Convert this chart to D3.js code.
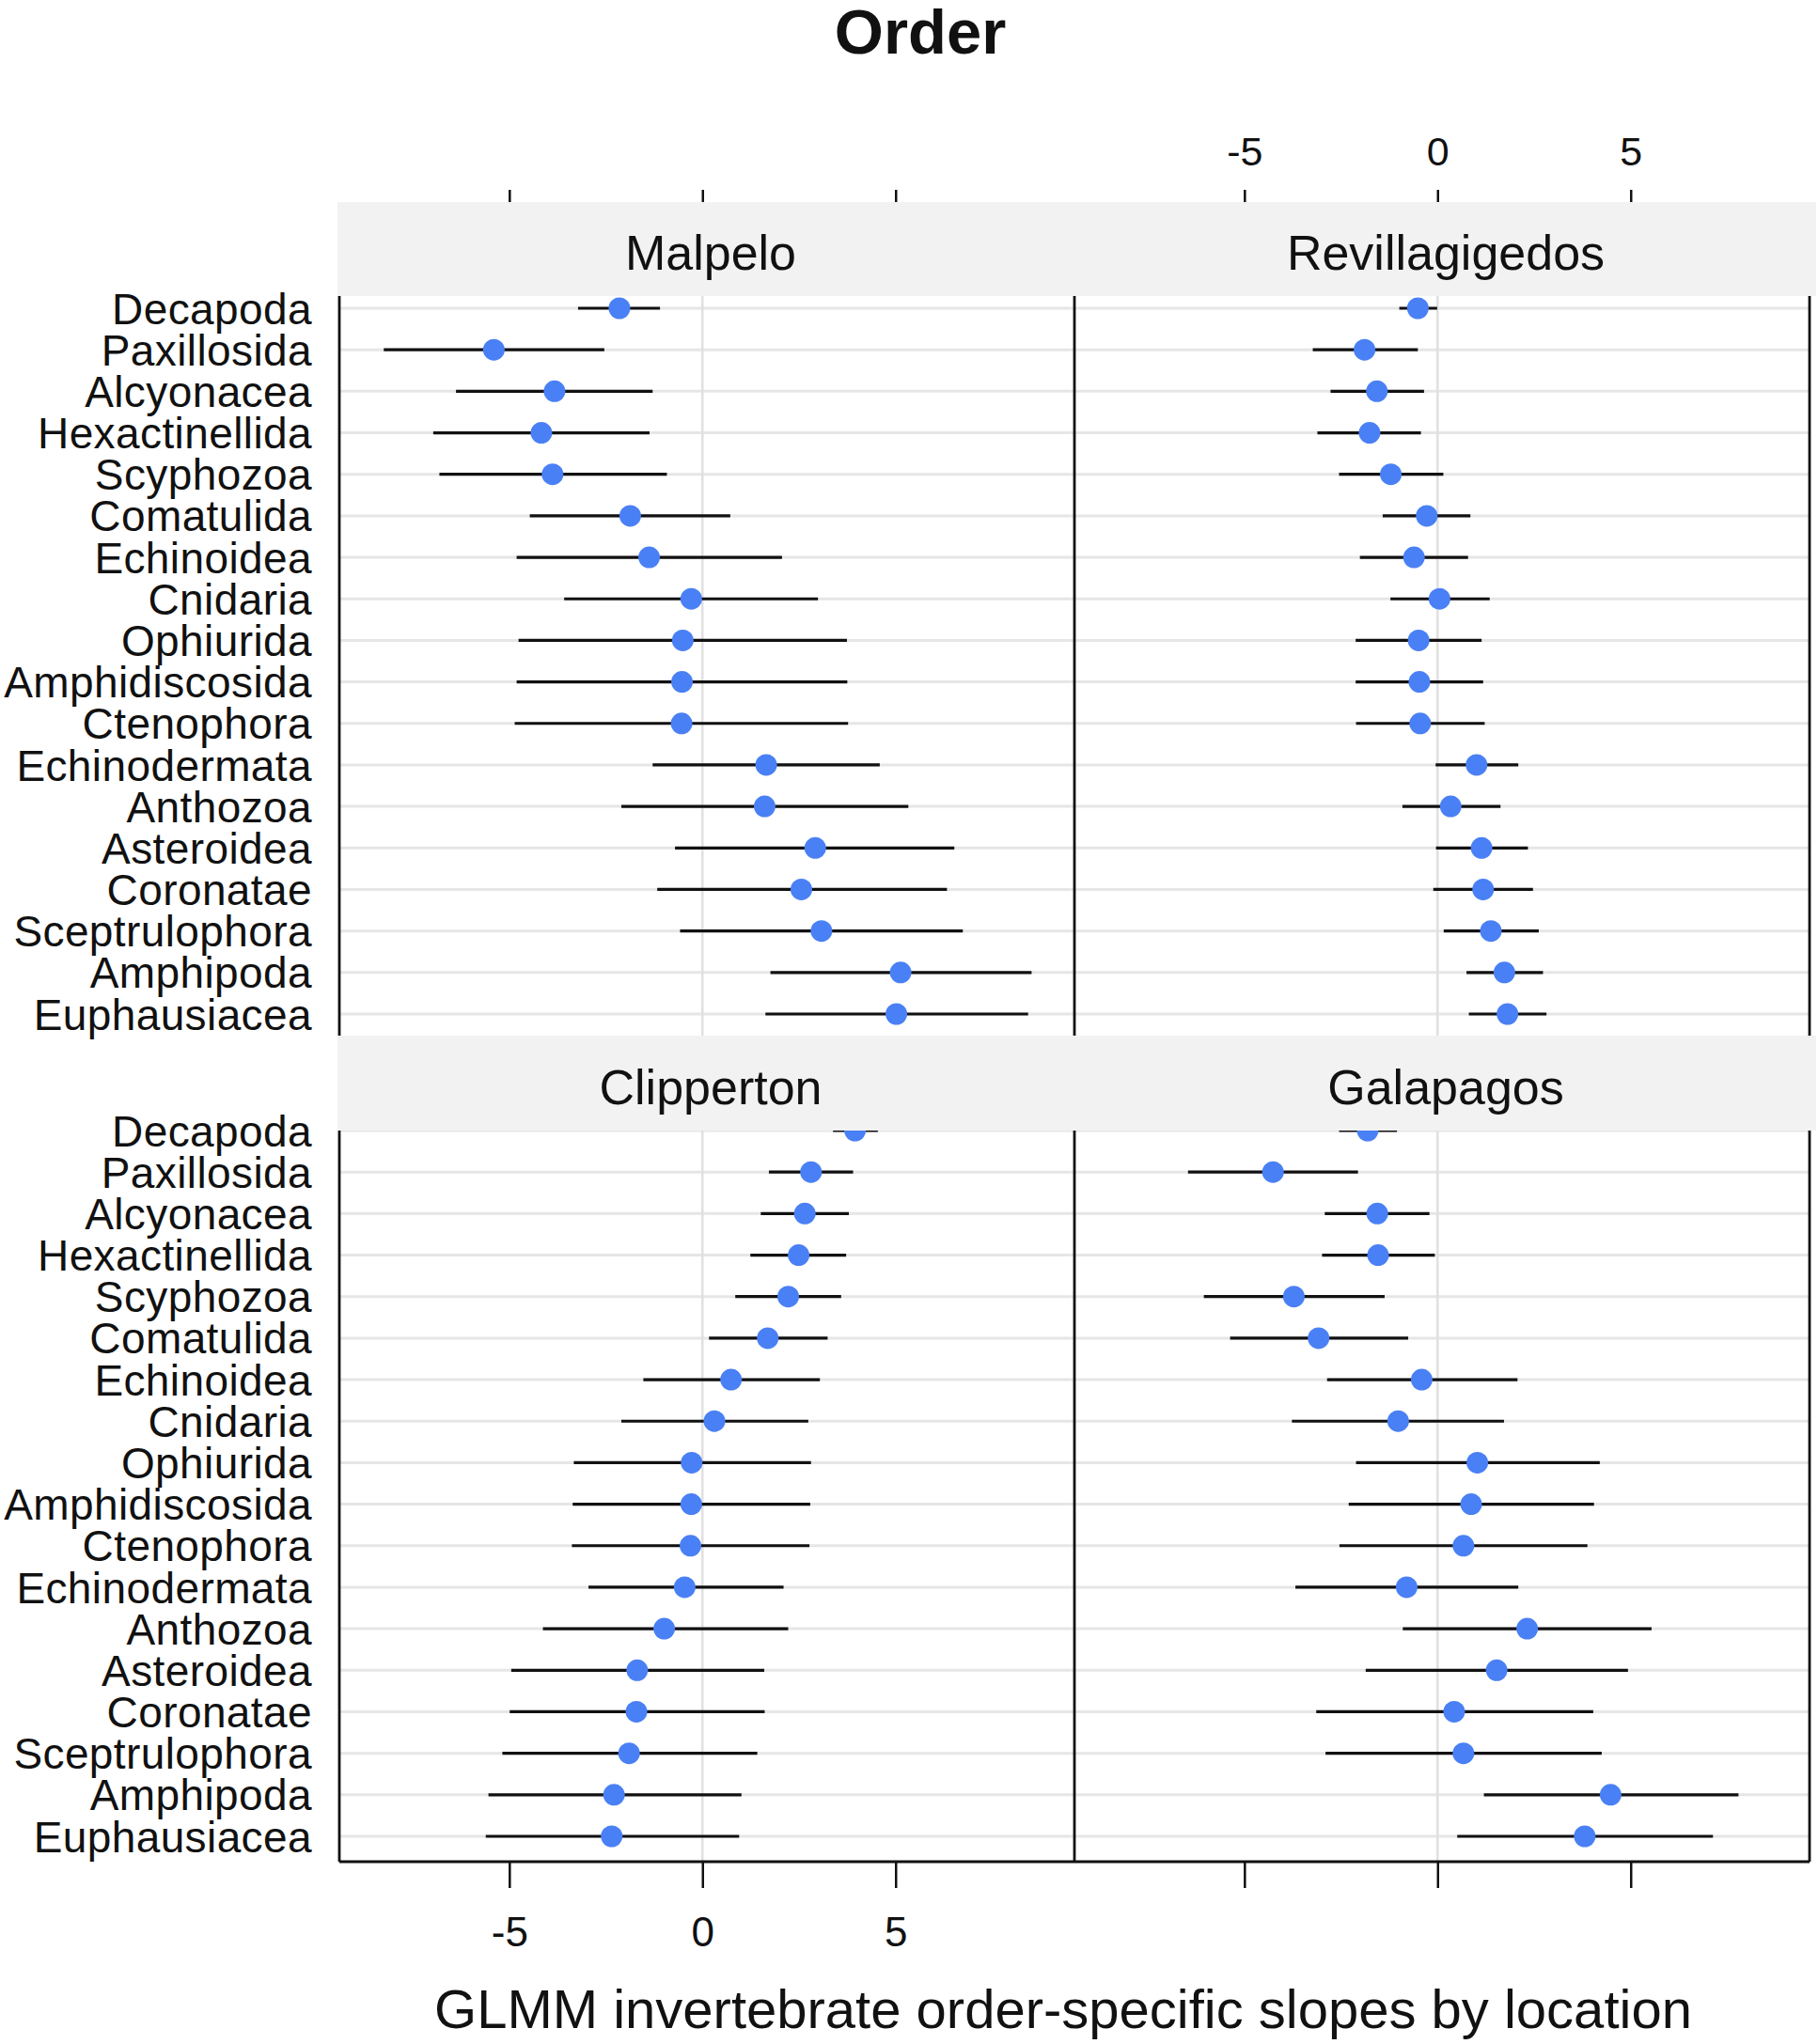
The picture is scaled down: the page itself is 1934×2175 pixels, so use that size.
<!DOCTYPE html>
<html>
<head>
<meta charset="utf-8">
<script src="https://cdn.jsdelivr.net/npm/d3@7"></script>
<style>
  body { margin: 0; background: #fff; }
  svg { display: block; }
  text { font-family: "Liberation Sans", Arial, sans-serif; }
</style>
</head>
<body>
<div id="wrapper"></div>
<script>
// data
const orders = ["Decapoda", "Paxillosida", "Alcyonacea", "Hexactinellida", "Scyphozoa",
  "Comatulida", "Echinoidea", "Cnidaria", "Ophiurida", "Amphidiscosida", "Ctenophora",
  "Echinodermata", "Anthozoa", "Asteroidea", "Coronatae", "Sceptrulophora", "Amphipoda",
  "Euphausiacea"]

const locations = ["Malpelo", "Revillagigedos", "Clipperton", "Galapagos"]

const malpeloEst = [-2.15, -5.40, -3.83, -4.17, -3.88, -1.87, -1.38, -0.29, -0.51, -0.53, -0.54, 1.65, 1.61, 2.92, 2.56, 3.08, 5.13, 5.02]
const malpeloLo  = [-3.22, -8.25, -6.38, -6.97, -6.81, -4.47, -4.81, -3.58, -4.76, -4.81, -4.86, -1.29, -2.10, -0.71, -1.17, -0.58, 1.76, 1.63]
const malpeloHi  = [-1.10, -2.54, -1.29, -1.37, -0.92, 0.72, 2.06, 2.99, 3.74, 3.75, 3.77, 4.59, 5.33, 6.52, 6.33, 6.74, 8.52, 8.43]

const revillaEst = [-0.51, -1.89, -1.57, -1.76, -1.21, -0.28, -0.61, 0.05, -0.49, -0.47, -0.45, 1.01, 0.34, 1.14, 1.18, 1.38, 1.73, 1.81]
const revillaLo  = [-0.99, -3.23, -2.77, -3.11, -2.55, -1.42, -2.01, -1.22, -2.12, -2.12, -2.11, -0.05, -0.91, -0.04, -0.11, 0.16, 0.75, 0.81]
const revillaHi  = [-0.01, -0.51, -0.35, -0.43, 0.15, 0.85, 0.79, 1.35, 1.14, 1.18, 1.22, 2.09, 1.63, 2.34, 2.47, 2.62, 2.73, 2.82]

const clipperEst = [3.95, 2.81, 2.65, 2.49, 2.22, 1.69, 0.74, 0.31, -0.28, -0.29, -0.31, -0.46, -0.99, -1.69, -1.71, -1.90, -2.29, -2.35]
const clipperLo  = [3.38, 1.72, 1.51, 1.24, 0.85, 0.17, -1.53, -2.10, -3.33, -3.36, -3.38, -2.95, -4.13, -4.95, -4.99, -5.18, -5.54, -5.61]
const clipperHi  = [4.54, 3.90, 3.79, 3.72, 3.59, 3.24, 3.04, 2.74, 2.81, 2.79, 2.77, 2.10, 2.22, 1.60, 1.61, 1.42, 1.01, 0.95]

const galapEst = [-1.81, -4.26, -1.56, -1.54, -3.72, -3.08, -0.41, -1.02, 1.03, 0.87, 0.67, -0.80, 2.32, 1.53, 0.43, 0.67, 4.48, 3.81]
const galapLo  = [-2.55, -6.46, -2.92, -2.99, -6.05, -5.37, -2.86, -3.77, -2.11, -2.30, -2.54, -3.68, -0.90, -1.86, -3.14, -2.90, 1.20, 0.51]
const galapHi  = [-1.05, -2.06, -0.21, -0.07, -1.37, -0.76, 2.07, 1.72, 4.20, 4.05, 3.88, 2.09, 5.54, 4.93, 4.03, 4.25, 7.79, 7.13]

const xTicks = [-5, 0, 5]
const xTickLabels = ["-5", "0", "5"]

// build one table per facet
const series = [
  [malpeloEst, malpeloLo, malpeloHi],
  [revillaEst, revillaLo, revillaHi],
  [clipperEst, clipperLo, clipperHi],
  [galapEst, galapLo, galapHi],
]
const facets = locations.map((name, i) => ({
  name,
  col: i % 2,
  row: Math.floor(i / 2),
  data: orders.map((o, j) => ({
    order: o,
    est: series[i][0][j],
    lo: series[i][1][j],
    hi: series[i][2][j],
  })),
}))

// dimensions
const width = 1934
const height = 2175
const colX = [[361, 1143], [1143, 1925]]
const rowLayout = [
  { panel: [301, 1104], rows: [328, 1079], strip: [215, 315] },
  { panel: [1177, 1981], rows: [1203, 1954], strip: [1102, 1203] },
]
const xDomain = [-9.4, 9.63]
const pointColor = "#4a80f5"

const svg = d3.select("#wrapper")
  .append("svg")
    .attr("width", width)
    .attr("height", height)

svg.append("rect")
    .attr("width", width)
    .attr("height", height)
    .attr("fill", "#fff")

const xScales = colX.map(r => d3.scaleLinear().domain(xDomain).range(r))
const yScales = rowLayout.map(r => d3.scalePoint().domain(orders).range(r.rows))
const tickLabel = d => xTickLabels[xTicks.indexOf(d)]

// panels
facets.forEach(f => {
  const x = xScales[f.col]
  const y = yScales[f.row]
  const [py0, py1] = rowLayout[f.row].panel
  const [px0, px1] = colX[f.col]
  const g = svg.append("g")

  g.selectAll(".grid")
    .data(orders)
    .join("line")
      .attr("x1", px0)
      .attr("x2", px1)
      .attr("y1", d => y(d))
      .attr("y2", d => y(d))
      .attr("stroke", "#e6e6e6")
      .attr("stroke-width", 3)

  g.append("line")
      .attr("x1", x(0))
      .attr("x2", x(0))
      .attr("y1", py0)
      .attr("y2", py1)
      .attr("stroke", "#e0e0e0")
      .attr("stroke-width", 2.5)

  g.selectAll(".err")
    .data(f.data)
    .join("line")
      .attr("x1", d => x(d.lo))
      .attr("x2", d => x(d.hi))
      .attr("y1", d => y(d.order))
      .attr("y2", d => y(d.order))
      .attr("stroke", "#111")
      .attr("stroke-width", 3.2)

  g.selectAll("circle")
    .data(f.data)
    .join("circle")
      .attr("cx", d => x(d.est))
      .attr("cy", d => y(d.order))
      .attr("r", 11.5)
      .attr("fill", pointColor)
})

// panel borders
rowLayout.forEach((r, i) => {
  const g = svg.append("g").attr("stroke", "#111").attr("stroke-width", 2.8)
  ;[361, 1143, 1925].forEach(xv => {
    g.append("line")
        .attr("x1", xv).attr("x2", xv)
        .attr("y1", r.panel[0]).attr("y2", r.panel[1])
  })
  if (i === 1) {
    g.append("line")
        .attr("x1", 361).attr("x2", 1925)
        .attr("y1", r.panel[1]).attr("y2", r.panel[1])
  }
})

// y axis labels (left of each row of panels)
rowLayout.forEach((r, i) => {
  svg.append("g")
      .attr("transform", `translate(361,0)`)
      .call(d3.axisLeft(yScales[i]).tickSize(0).tickPadding(29))
      .call(g => g.select(".domain").remove())
      .attr("font-family", null)
      .attr("font-size", 46)
      .selectAll("text")
        .attr("fill", "#111")
        .attr("letter-spacing", 0.4)
        .attr("dy", "0.35em")
})

// strips
rowLayout.forEach((r, i) => {
  svg.append("rect")
      .attr("x", 359)
      .attr("y", r.strip[0])
      .attr("width", 1932 - 359)
      .attr("height", r.strip[1] - r.strip[0])
      .attr("fill", "#f2f2f2")
})
facets.forEach(f => {
  const [px0, px1] = colX[f.col]
  const [s0, s1] = rowLayout[f.row].strip
  svg.append("text")
      .attr("x", (px0 + px1) / 2 + 4)
      .attr("y", (s0 + s1) / 2 + 22)
      .attr("text-anchor", "middle")
      .attr("font-size", 52)
      .attr("fill", "#111")
      .text(f.name)
})

// top axis (labels only on right column)
xScales.forEach((x, i) => {
  svg.append("g")
      .attr("transform", "translate(0,215)")
      .call(d3.axisTop(x).tickValues(xTicks).tickSize(13).tickPadding(26)
        .tickFormat(i === 1 ? tickLabel : () => ""))
      .call(g => g.select(".domain").remove())
      .attr("font-family", null)
      .attr("font-size", 43)
      .call(g => g.selectAll("line").attr("stroke", "#111").attr("stroke-width", 2.5))
      .call(g => g.selectAll("text").attr("fill", "#111"))
})

// bottom axis (labels only on left column)
xScales.forEach((x, i) => {
  svg.append("g")
      .attr("transform", "translate(0,1981)")
      .call(d3.axisBottom(x).tickValues(xTicks).tickSize(28).tickPadding(31)
        .tickFormat(i === 0 ? tickLabel : () => ""))
      .call(g => g.select(".domain").remove())
      .attr("font-family", null)
      .attr("font-size", 44)
      .call(g => g.selectAll("line").attr("stroke", "#111").attr("stroke-width", 2.5))
      .call(g => g.selectAll("text").attr("fill", "#111"))
})

// title and x label
svg.append("text")
    .attr("x", 979)
    .attr("y", 57)
    .attr("text-anchor", "middle")
    .attr("font-size", 67)
    .attr("font-weight", "bold")
    .attr("fill", "#111")
    .text("Order")

svg.append("text")
    .attr("x", 1131)
    .attr("y", 2158)
    .attr("text-anchor", "middle")
    .attr("font-size", 58)
    .attr("fill", "#111")
    .text("GLMM invertebrate order-specific slopes by location")
</script>
</body>
</html>
